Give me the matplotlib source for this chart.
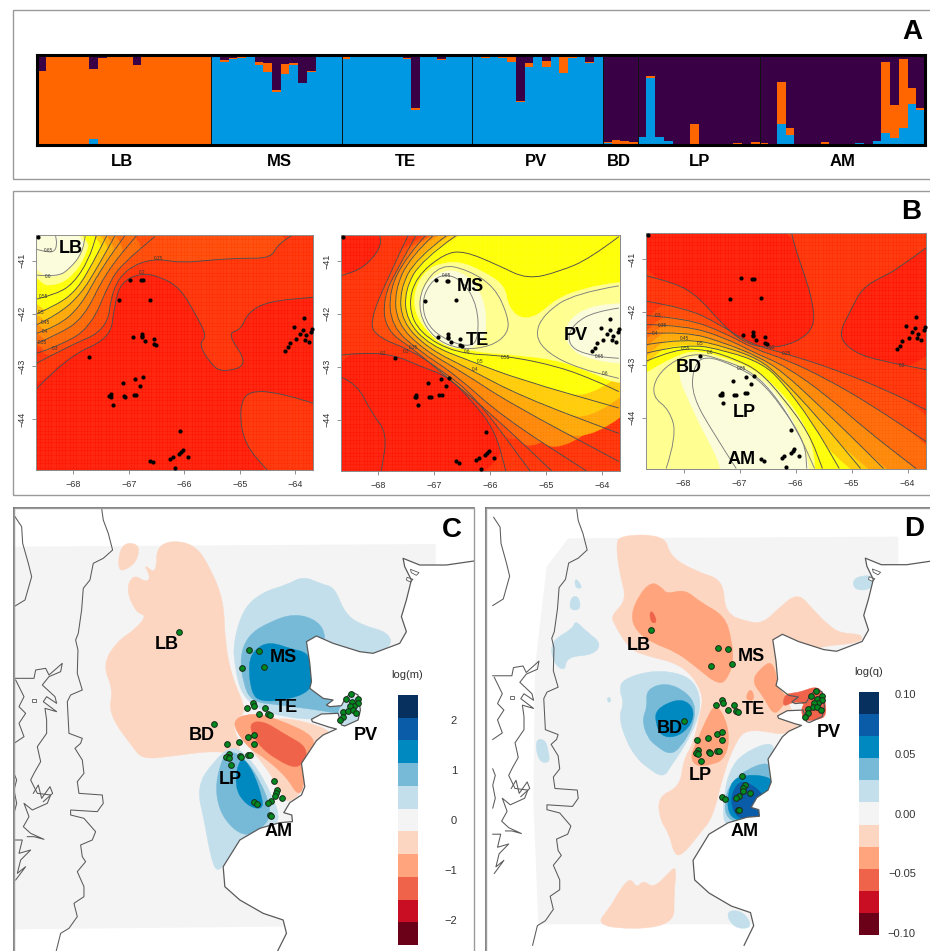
"""
plot.py
Four panel figure: ancestry bars, ancestry maps and migration / diversity surfaces
"""

import numpy as np
import matplotlib
matplotlib.use('Agg')
import matplotlib.pyplot as plt
from matplotlib.colors import BoundaryNorm, ListedColormap
from matplotlib.patches import PathPatch, Polygon, Rectangle
from matplotlib.path import Path

plt.rcParams['font.family'] = ['Liberation Sans', 'DejaVu Sans']

W, H = 930, 951

# ---- Panel A: per individual ancestry, purple is the remainder up to 1
lb_blue = [.015, .005, .005, .005, .005, .005, .075, .012, .008, .008, .008, .012, .005, .005, .005, .005, .005, .005, .01, .005]
lb_orange = [.81, .985, .98, .985, .985, .985, .775, .963, .987, .987, .987, .883, .985, .98, .99, .99, .99, .99, .985, .99]
ms_blue = [.98, .93, .965, .975, .98, .895, .82, .59, .795, .895, .69, .82, .98, .99, .99]
ms_orange = [.005, .025, .01, .005, .005, .035, .095, .025, .11, .025, .01, .005, .005, .005, .005]
te_blue = [.965, .98, .985, .985, .985, .985, .98, .96, .395, .985, .985, .955, .98, .985, .985]
te_orange = [.015, .005, .005, .005, .005, .005, .005, .015, .025, .005, .005, .005, .005, .005, .005]
pv_blue = [.985, .975, .985, .975, .925, .48, .875, .99, .875, .99, .805, .975, .985, .915, .99]
pv_orange = [.005, .005, .005, .015, .065, .015, .045, .005, .06, .005, .185, .005, .005, .015, .005]
bd_blue = [.025, .01, .015, .01]
bd_orange = [.015, .055, .035, .025]
lp_blue = [.09, .75, .10, .05, .02, .01, .01, .01, .01, .01, .01, .01, .01, .01]
lp_orange = [.01, .02, .0, .005, .0, .0, .225, .0, .005, .0, .0, .02, .005, .025]
am_blue = [.005, .0, .235, .115, .0, .01, .005, .01, .0, .005, .005, .03, .01, .055, .14, .085, .19, .46, .395]
am_orange = [.025, .0, .47, .08, .0, .0, .005, .025, .0, .005, .01, .0, .0, .0, .79, .37, .775, .18, .02]
groups_a = ['LB', 'MS', 'TE', 'PV', 'BD', 'LP', 'AM']
group_sizes_a = [20, 15, 15, 15, 4, 14, 19]

# ---- Panel B: sampling sites, longitude and latitude
site_lon = [-68.64, -66.97, -66.77, -66.75, -67.17, -66.62, -66.93, -66.76, -66.76, -66.76, -66.55, -66.71, -66.55, -66.51,
            -67.71, -67.11, -66.88, -66.74, -66.79, -66.91, -66.87, -67.35, -67.32, -67.32, -67.09, -67.06, -67.29, -66.08,
            -66.02, -66.05, -66.09, -65.93, -66.20, -66.25, -66.62, -66.56, -66.17, -63.85, -64.02, -63.86, -63.69, -63.71,
            -63.92, -63.81, -63.98, -63.83, -63.76, -64.10, -64.13, -64.18]
site_lat = [-40.54, -41.36, -41.37, -41.37, -41.75, -41.74, -42.44, -42.38, -42.43, -42.45, -42.48, -42.53, -42.58, -42.60,
            -42.83, -43.31, -43.24, -43.21, -43.37, -43.54, -43.54, -43.57, -43.53, -43.58, -43.57, -43.58, -43.73, -44.23,
            -44.59, -44.63, -44.67, -44.72, -44.73, -44.77, -44.79, -44.81, -44.94, -42.09, -42.26, -42.31, -42.29, -42.35,
            -42.38, -42.41, -42.49, -42.50, -42.54, -42.56, -42.64, -42.71]

b1_red = [(-70, -43.44), (-68.67, -43.44), (-68.11, -42.82), (-67.33, -42.47), (-67.26, -41.87), (-67.15, -41.42),
          (-66.79, -41.23), (-66.43, -41.30), (-66.07, -41.52), (-65.77, -42.06), (-65.59, -42.44), (-65.74, -42.57),
          (-65.53, -42.95), (-65.32, -43.12), (-64.83, -42.98), (-65.23, -42.38), (-64.98, -42.31), (-64.86, -41.99),
          (-64.50, -41.77), (-63.66, -41.69), (-62.8, -41.69), (-62.8, -43.71), (-63.66, -43.71), (-64.20, -43.52),
          (-64.86, -43.45), (-65.01, -43.83), (-64.92, -44.47), (-64.50, -44.98), (-64.3, -46), (-70, -46)]
b1_025 = [(-68.67, -42.95), (-68.11, -42.63), (-67.39, -42.31), (-67.30, -41.55), (-67.03, -41.14), (-66.55, -40.95),
          (-66.07, -41.04), (-65.47, -40.98), (-64.98, -40.95), (-64.44, -40.95), (-64.32, -40.70), (-64.05, -40.51)]
b1_03 = [(-68.67, -42.76), (-68.29, -42.63), (-67.69, -42.28), (-67.33, -41.36), (-67.09, -41.04), (-66.53, -40.54)]
b1_035 = [(-68.67, -42.57), (-68.29, -42.41), (-67.81, -42.09), (-67.42, -41.23), (-66.85, -40.51)]
b1_04 = [(-68.67, -42.38), (-68.29, -42.25), (-67.87, -41.87), (-67.51, -41.17), (-67.06, -40.51)]
b1_045 = [(-68.67, -42.22), (-68.29, -42.03), (-67.87, -41.65), (-67.54, -41.08), (-67.24, -40.51)]
b1_05 = [(-68.67, -42.01), (-68.29, -41.84), (-67.93, -41.55), (-67.63, -41.01), (-67.39, -40.51)]
b1_055 = [(-68.67, -41.73), (-68.29, -41.63), (-67.99, -41.42), (-67.72, -40.98), (-67.58, -40.51)]
b1_light = [(-68.67, -41.45), (-68.29, -41.47), (-68.0, -41.27), (-67.78, -40.92), (-67.68, -40.51)]
b1_06 = [(-68.67, -41.27), (-68.29, -41.31), (-68.05, -41.14), (-67.84, -40.85), (-67.78, -40.51)]
b1_065 = [(-68.67, -40.78), (-68.53, -40.82), (-68.35, -40.84), (-68.29, -40.70), (-68.32, -40.51)]

b2_red_top = [(-68.68, -41.28), (-68.39, -41.20), (-68.12, -40.98), (-67.95, -40.70), (-67.98, -40.50)]
b2_red_low = [(-68.68, -42.78), (-68.25, -42.73), (-67.71, -42.78), (-67.23, -43.0), (-66.75, -43.19), (-66.34, -43.63),
              (-65.92, -44.19), (-65.72, -44.97)]
b2_line_left = [(-68.68, -43.19), (-68.39, -43.31), (-68.12, -43.88), (-67.84, -44.26), (-67.95, -44.97)]
b2_025 = [(-67.47, -40.52), (-67.77, -41.18), (-68.18, -42.18), (-67.98, -42.46), (-67.43, -42.68), (-66.88, -43.06),
          (-66.27, -43.56), (-65.29, -44.97)]
b2_03 = [(-67.33, -40.52), (-67.64, -41.11), (-67.91, -41.67), (-67.88, -42.30), (-67.36, -42.68), (-66.82, -43.16),
         (-65.99, -43.88), (-64.90, -44.97)]
b2_035 = [(-67.16, -40.52), (-67.50, -40.92), (-67.81, -41.55), (-67.77, -42.24), (-67.26, -42.71), (-66.61, -43.16),
          (-65.79, -43.94), (-64.28, -44.97)]
b2_04 = [(-67.02, -40.52), (-67.43, -40.92), (-67.71, -41.55), (-67.67, -42.18), (-67.19, -42.68), (-66.47, -43.12),
         (-65.65, -43.69), (-63.70, -44.79)]
b2_045 = [(-66.78, -40.52), (-67.33, -40.95), (-67.62, -41.55), (-67.58, -42.15), (-67.12, -42.65), (-66.40, -43.03),
          (-65.45, -43.56), (-63.70, -44.26)]
b2_05 = [(-66.61, -40.52), (-67.23, -40.98), (-67.53, -41.55), (-67.50, -42.12), (-67.09, -42.59), (-66.34, -42.90),
         (-65.45, -43.25), (-63.70, -43.78)]
b2_055 = [(-63.70, -40.54), (-64.21, -40.95), (-64.76, -41.20), (-65.34, -41.35), (-65.86, -41.08), (-66.47, -40.81),
          (-66.82, -40.86), (-67.33, -41.30), (-67.47, -41.86), (-67.26, -42.37), (-66.61, -42.75), (-65.72, -42.79),
          (-64.76, -43.0), (-64.08, -43.28), (-63.70, -43.47)]
b2_light = [(-66.90, -41.05), (-66.54, -41.01), (-66.12, -41.20), (-65.74, -41.46), (-65.68, -41.86), (-65.47, -42.09),
            (-65.17, -42.05), (-64.81, -41.71), (-64.34, -41.52), (-63.68, -41.39), (-63.2, -41.39), (-63.2, -43.2), (-63.68, -43.35),
            (-64.22, -43.09), (-64.81, -42.87), (-65.53, -42.78), (-66.30, -42.72), (-66.90, -42.53), (-67.25, -42.2),
            (-67.38, -41.8), (-67.3, -41.4), (-67.1, -41.15)]
b2_ms_pale = [(-66.82, -41.14), (-66.40, -41.26), (-66.13, -41.67), (-66.06, -42.18), (-66.13, -42.56), (-66.54, -42.70),
              (-67.02, -42.49), (-67.28, -42.02), (-67.23, -41.49)]
b2_pv_pale = [(-63.68, -41.80), (-64.22, -41.86), (-64.57, -42.09), (-64.69, -42.40), (-64.51, -42.72), (-64.16, -42.87),
              (-63.68, -42.94), (-63.4, -42.94), (-63.1, -42.94), (-63.1, -41.80), (-63.4, -41.80)]
b2_pv_06 = [(-63.70, -41.47), (-64.49, -41.61), (-65.03, -41.99), (-65.21, -42.40), (-64.97, -42.75), (-64.42, -43.03),
            (-63.70, -43.22)]
b2_pv_065 = [(-63.70, -41.89), (-64.14, -41.96), (-64.49, -42.18), (-64.62, -42.43), (-64.52, -42.68), (-64.08, -42.81),
             (-63.70, -42.84)]
b2_ms_06 = [(-66.88, -41.06), (-66.40, -41.17), (-65.92, -41.49), (-65.68, -42.05), (-65.68, -42.37), (-65.99, -42.62),
            (-66.54, -42.68), (-67.02, -42.46), (-67.28, -41.99), (-67.23, -41.49)]
b2_ms_065 = [(-66.82, -41.23), (-66.47, -41.39), (-66.23, -41.86), (-66.21, -42.43), (-66.34, -42.63), (-66.75, -42.52),
             (-67.12, -42.24), (-67.23, -41.80), (-67.09, -41.42)]

b3_red_top = [(-68.66, -41.32), (-68.15, -41.45), (-67.74, -41.71), (-67.33, -42.21), (-66.96, -42.56), (-66.51, -42.70),
              (-66.0, -42.59), (-65.66, -42.30), (-65.69, -41.83), (-65.83, -41.33), (-66.0, -40.82), (-66.07, -40.51)]
b3_red_right = [(-63.67, -40.79), (-64.19, -41.20), (-64.46, -41.34), (-64.81, -41.55), (-65.01, -41.96), (-65.25, -42.46),
                (-64.94, -42.78), (-64.46, -42.93), (-63.67, -43.09)]
b3_025 = [(-68.66, -41.80), (-67.95, -41.93), (-67.40, -42.21), (-66.78, -42.62), (-66.10, -42.81), (-65.22, -43.12),
          (-64.40, -43.47), (-63.67, -43.85)]
b3_03 = [(-68.66, -42.07), (-67.95, -42.12), (-67.26, -42.40), (-66.72, -42.71), (-66.17, -42.90), (-65.42, -43.28),
         (-64.60, -43.79), (-63.67, -44.45)]
b3_035 = [(-68.66, -42.24), (-67.95, -42.26), (-67.26, -42.49), (-66.72, -42.78), (-66.17, -43.03), (-65.42, -43.60),
          (-64.74, -44.23), (-63.85, -44.96)]
b3_04 = [(-68.66, -42.41), (-67.95, -42.37), (-67.26, -42.59), (-66.68, -42.84), (-66.24, -43.12), (-65.56, -43.79),
         (-65.01, -44.35), (-64.43, -44.96)]
b3_045 = [(-68.66, -42.62), (-67.95, -42.49), (-67.19, -42.68), (-66.65, -42.90), (-66.31, -43.19), (-65.62, -43.97),
          (-64.84, -44.96)]
b3_05 = [(-68.66, -42.78), (-67.95, -42.59), (-67.19, -42.75), (-66.61, -42.97), (-66.27, -43.28), (-65.69, -44.10),
         (-65.22, -44.96)]
b3_055 = [(-68.66, -42.93), (-68.15, -42.70), (-67.60, -42.71), (-67.06, -42.90), (-66.65, -43.12), (-66.24, -43.60),
          (-65.76, -44.29), (-65.52, -44.96)]
b3_light = [(-69.0, -43.3), (-68.67, -43.16), (-68.43, -43.0), (-68.07, -42.81), (-67.78, -42.73), (-67.30, -42.85), (-66.70, -43.10),
            (-66.17, -43.60), (-65.75, -44.29), (-65.63, -44.99), (-65.65, -45.5), (-69.1, -45.5)]
b3_pale = [(-68.01, -42.94), (-67.78, -42.81), (-67.30, -42.90), (-66.70, -43.19), (-66.28, -43.60), (-65.99, -44.17),
           (-65.81, -44.67), (-65.75, -45.02), (-65.75, -45.6), (-67.3, -45.6), (-67.33, -45.02), (-67.39, -44.77), (-67.66, -44.23),
           (-67.87, -43.76), (-68.10, -43.22)]
b3_06 = [(-68.31, -44.96), (-68.12, -44.35), (-68.25, -43.85), (-68.56, -43.60), (-68.49, -43.22), (-68.15, -42.90),
         (-67.74, -42.78), (-67.33, -42.90), (-66.85, -43.09), (-66.44, -43.47), (-65.97, -44.23), (-65.66, -44.96)]
b3_065 = [(-67.06, -44.96), (-67.47, -44.29), (-67.84, -43.60), (-67.84, -43.09), (-67.64, -42.81), (-67.06, -43.03),
          (-66.65, -43.28), (-66.24, -43.79), (-65.83, -44.48), (-65.80, -44.96)]

b1_contour_labels = [(-68.45, -40.80, '0.65'), (-68.45, -41.30, '0.6'), (-68.54, -41.68, '0.55'), (-68.58, -41.98, '0.5'),
                     (-68.49, -42.17, '0.45'), (-68.50, -42.35, '0.4'), (-68.55, -42.55, '0.35'), (-68.32, -42.66, '0.3'),
                     (-66.46, -40.96, '0.25'), (-66.76, -41.23, '0.2')]
b2_contour_labels = [(-67.92, -42.75, '0.2'), (-67.38, -42.63, '0.35'), (-67.51, -42.72, '0.3'), (-66.28, -43.06, '0.4'),
                     (-66.18, -42.90, '0.5'), (-65.72, -42.83, '0.55'), (-66.42, -42.71, '0.6'), (-63.94, -43.12, '0.6'),
                     (-64.05, -42.81, '0.65'), (-66.79, -41.28, '0.65')]
b3_contour_labels = [(-68.46, -42.07, '0.3'), (-68.38, -42.25, '0.35'), (-68.51, -42.41, '0.4'), (-67.98, -42.51, '0.45'),
                     (-67.71, -42.60, '0.5'), (-67.97, -42.70, '0.55'), (-67.52, -42.76, '0.6'), (-66.96, -43.07, '0.65'),
                     (-66.41, -42.68, '0.2'), (-66.16, -42.78, '0.25'), (-64.09, -43.02, '0.2')]

# ---- Panels C and D: base map, in map units of panel C
sea_coast = [(1260, 195), (1210, 175), (1215, 200), (1235, 240), (1220, 300), (1205, 350), (1220, 395), (1200, 430),
             (1120, 460), (1080, 455), (1000, 430), (950, 408), (920, 425), (930, 490), (935, 545), (930, 565), (970, 595),
             (1000, 600), (980, 615), (990, 620), (1025, 617), (1035, 598), (1055, 575), (1075, 585), (1082, 630), (1075, 660),
             (1035, 678), (1025, 675), (1015, 640), (965, 642), (935, 658), (938, 665), (990, 682), (1010, 687), (970, 705),
             (950, 722), (905, 790), (915, 860), (905, 885), (870, 908), (852, 938), (876, 945), (878, 965), (840, 968),
             (780, 985), (720, 1020), (670, 1100), (675, 1160), (720, 1200), (790, 1240), (850, 1260), (860, 1300), (830, 1360)]
coast_head = [(1423, 183), (1340, 195)]
andes = [(305, 24), (310, 60), (325, 100), (338, 150), (310, 175), (280, 190), (270, 240), (250, 265), (245, 330), (235, 400),
         (227, 420), (234, 450), (232, 520), (247, 570), (212, 585), (202, 605), (207, 700), (247, 715), (242, 730), (225, 745),
         (247, 780), (252, 820), (232, 845), (237, 880), (307, 885), (310, 910), (292, 935), (212, 930), (212, 945), (252, 955),
         (287, 995), (277, 1020), (242, 1035), (247, 1070), (257, 1085), (232, 1115), (252, 1160), (252, 1190), (222, 1210),
         (232, 1250), (207, 1285), (182, 1300), (167, 1360)]
chile_north = [(45, 50), (65, 80), (68, 130), (85, 190), (95, 230), (75, 300), (42, 320)]
fjords_a = [(42, 535), (102, 535), (107, 510), (137, 505), (147, 525), (187, 490), (182, 515), (147, 530), (127, 555), (165, 590),
            (170, 610), (140, 590), (130, 605), (170, 635), (135, 625), (140, 660), (140, 700), (112, 740), (122, 785), (102, 820),
            (92, 840), (112, 880), (152, 885), (142, 910), (97, 930), (72, 910), (87, 950), (70, 980), (92, 1000), (132, 1018),
            (102, 1010), (82, 1010)]
fjords_b = [(47, 540), (72, 590), (57, 620), (77, 640), (57, 670), (72, 710), (42, 730)]
fjords_c = [(42, 1020), (67, 1020), (57, 1060), (92, 1050), (62, 1080), (52, 1120), (77, 1100), (47, 1140)]
fjords_d = [(42, 820), (50, 840), (42, 870), (50, 910), (42, 940)]
fjords_e = [(100, 880), (115, 855), (125, 895), (150, 860), (158, 880), (130, 905)]
lake_a = [(1232, 208), (1258, 218), (1250, 226), (1235, 218)]
lake_b = [(1222, 232), (1240, 238), (1232, 246), (1220, 240)]
lake_c = [(95, 598), (108, 598), (108, 605), (95, 605)]

# Sampling sites on the base map
map_x = [537, 747, 779, 727, 792, 761, 763, 741, 797, 779, 805, 810, 641, 745, 762, 717, 682, 762, 686, 683, 678, 686, 719, 724,
         745, 752, 694, 824, 832, 828, 825, 847, 815, 806, 762, 771, 812, 814, 1054, 1039, 1075, 1058, 1075, 1062, 1050, 1030,
         1045, 1060, 1070, 1030, 1022]
map_y = [395, 449, 453, 504, 500, 608, 617, 624, 624, 641, 643, 646, 672, 712, 706, 727, 733, 731, 762, 770, 771, 775, 768, 771,
         765, 764, 795, 843, 870, 878, 888, 894, 902, 909, 907, 911, 945, 947, 581, 598, 597, 606, 610, 617, 618, 637, 632, 630,
         639, 650, 660]

# Colour classes of the log(m) and log(q) scales, low to high
class_colors = ['#6B0019', '#C90D22', '#EF634A', '#FFA47C', '#FDD6C2', '#F4F4F4', '#C3DFEC', '#76BAD8', '#0089C0', '#0A5CA8', '#07305F']
PINK, ORANGE, CORAL = class_colors[4], class_colors[3], class_colors[2]
PALE, SKY, OCEAN, DEEP = class_colors[6], class_colors[7], class_colors[8], class_colors[9]

c_surface = [
    (PINK, [(362, 130), (352, 218), (395, 200), (416, 170), (416, 130)]),
    (PINK, [(400, 222), (440, 248), (452, 230), (430, 190), (470, 225), (470, 125), (582, 125), (640, 220), (672, 310), (675, 420),
            (695, 530), (745, 640), (690, 660), (735, 765), (640, 752), (520, 768), (430, 778), (400, 745), (325, 640), (340, 570),
            (308, 495), (350, 425), (410, 385), (440, 345), (410, 340), (378, 270)]),
    (PINK, [(735, 730), (810, 640), (1010, 690), (945, 720), (905, 795), (915, 870), (860, 915), (835, 860), (790, 790)]),
    (ORANGE, [(690, 660), (760, 638), (830, 655), (960, 715), (910, 780), (915, 855), (895, 890), (860, 830), (790, 770), (740, 740)]),
    (CORAL, [(745, 670), (790, 662), (850, 700), (930, 745), (900, 810), (830, 780), (770, 730)]),
    (PALE, [(910, 228), (965, 252), (1005, 262), (1035, 340), (1085, 375), (1170, 398), (1175, 445), (1080, 470), (950, 470),
            (1000, 600), (1020, 650), (940, 660), (850, 650), (780, 630), (725, 585), (705, 500), (700, 430), (730, 325), (790, 275),
            (860, 255)]),
    (SKY, [(885, 340), (955, 362), (980, 410), (960, 470), (985, 600), (1035, 625), (1040, 645), (1000, 638), (940, 628), (830, 614),
           (755, 605), (730, 550), (720, 470), (745, 405), (810, 365)]),
    (OCEAN, [(810, 425), (875, 447), (925, 458), (950, 520), (930, 575), (860, 600), (785, 605), (755, 582), (745, 490), (765, 447)]),
    (PALE, [(1005, 588), (1095, 592), (1085, 655), (1065, 685), (1018, 685), (1012, 640), (1030, 610)]),
    (PALE, [(700, 732), (762, 788), (815, 880), (845, 965), (790, 1000), (720, 1025), (680, 1085), (650, 1120), (630, 1060), (615, 970),
            (590, 860), (640, 785)]),
    (SKY, [(680, 746), (742, 778), (800, 880), (815, 950), (780, 990), (730, 1010), (675, 962), (650, 900), (650, 830)]),
    (OCEAN, [(720, 765), (758, 808), (790, 900), (785, 930), (738, 915), (703, 860)]),
]
d_surface = [
    (PINK, [(418, 105), (555, 105), (570, 170), (650, 215), (730, 240), (735, 340), (800, 365), (850, 370), (900, 320), (955, 278),
            (1000, 330), (1050, 380), (1085, 400), (1150, 403), (1140, 430), (1000, 440), (900, 500), (920, 600), (950, 660), (960, 680),
            (905, 705), (865, 695), (800, 690), (770, 720), (730, 820), (700, 950), (660, 1000), (605, 1068), (582, 1062), (567, 1000),
            (540, 960), (533, 890), (600, 860), (610, 780), (640, 730), (660, 640), (670, 590), (640, 530), (590, 490), (510, 470),
            (450, 450), (400, 370), (395, 345), (440, 300), (420, 225), (408, 140)]),
    (PINK, [(340, 1285), (395, 1215), (410, 1185), (450, 1130), (470, 1165), (490, 1140), (520, 1165), (565, 1120), (590, 1095),
            (582, 1180), (582, 1285)]),
    (ORANGE, [(515, 245), (545, 262), (560, 282), (615, 268), (660, 306), (735, 348), (755, 420), (760, 480), (750, 522), (720, 560),
              (640, 494), (585, 454), (520, 430), (468, 394), (452, 345), (478, 283)]),
    (ORANGE, [(880, 480), (895, 570), (925, 590), (905, 625), (880, 645), (850, 590), (815, 545), (840, 505)]),
    (ORANGE, [(705, 610), (735, 650), (750, 720), (732, 780), (690, 795), (650, 800), (630, 772), (652, 720), (678, 660)]),
    (ORANGE, [(800, 580), (815, 566), (825, 600), (800, 602)]),
    (CORAL, [(508, 338), (518, 333), (532, 367), (514, 370)]),
    (PALE, [(418, 570), (428, 538), (510, 512), (590, 517), (642, 543), (663, 600), (653, 662), (612, 742), (575, 795), (550, 835),
            (498, 800), (468, 772), (438, 722), (416, 650), (432, 610)]),
    (SKY, [(498, 568), (560, 547), (622, 578), (648, 620), (638, 682), (602, 742), (570, 765), (528, 738), (502, 712), (486, 660),
           (502, 620)]),
    (OCEAN, [(527, 628), (590, 597), (628, 608), (643, 640), (628, 683), (585, 713), (543, 708), (527, 670)]),
    (PALE, [(790, 758), (885, 720), (875, 790), (880, 840), (855, 950), (780, 965), (728, 980), (732, 880), (750, 808)]),
    (SKY, [(780, 818), (870, 780), (880, 840), (860, 890), (855, 965), (738, 970), (733, 880)]),
    (OCEAN, [(745, 848), (800, 822), (875, 832), (880, 860), (860, 890), (850, 955), (742, 965)]),
    (DEEP, [(770, 850), (800, 843), (855, 885), (832, 905), (815, 925), (848, 935), (845, 962), (770, 958), (750, 900)]),
    (PALE, [(165, 718), (195, 718), (205, 750), (210, 790), (175, 785)]),
    (PALE, [(285, 230), (310, 265), (285, 265)]),
    (PALE, [(270, 300), (285, 285), (300, 300), (300, 330), (270, 330)]),
    (PALE, [(210, 425), (280, 385), (285, 360), (320, 395), (365, 430), (340, 465), (260, 470), (255, 515), (220, 490)]),
    (PALE, [(1120, 230), (1190, 225), (1175, 270), (1120, 270)]),
    (PALE, [(735, 1232), (790, 1232), (820, 1285), (760, 1285)]),
    (PALE, [(380, 595), (390, 590), (393, 605), (385, 608)]),
]
# The red patch over Peninsula Valdes sits on top of the sea mask
d_over_sea = [(CORAL, [(960, 576), (1017, 556), (1036, 600), (1039, 647), (1017, 659), (970, 664), (963, 625), (975, 610), (940, 605),
                       (908, 622), (913, 583), (945, 578)])]
c_gray = [(42, 140), (1308, 132), (1308, 1275), (42, 1288)]
d_gray = [(265, 115), (1255, 110), (1255, 1273), (175, 1273), (160, 900), (165, 500), (200, 200)]

m_ticks = [-2, -1, 0, 1, 2]
q_ticks = [-0.10, -0.05, 0.0, 0.05, 0.10]


def ax_px(left, top, right, bottom):
    """Axes placed by pixel edges of the figure"""
    return fig.add_axes([left / W, 1 - bottom / H, (right - left) / W, (bottom - top) / H])


def fig_label(x, y, text, size, **kw):
    fig.text(x / W, 1 - y / H, text, fontsize=size, ha=kw.pop('ha', 'center'), va='center', **kw)


def frame(left, top, right, bottom):
    fig.add_artist(Rectangle((left / W, 1 - bottom / H), (right - left) / W, (bottom - top) / H, transform=fig.transFigure,
                             fill=False, edgecolor='#9A9A9A', linewidth=1.0))


def smooth_path(points, closed=False):
    """Path through midpoints, with the read points as quadratic control points"""
    pts = np.asarray(points, dtype=float)
    if closed:
        start = (pts[-1] + pts[0]) / 2
        verts, codes = [start], [Path.MOVETO]
        for i in range(len(pts)):
            verts += [pts[i], (pts[i] + pts[(i + 1) % len(pts)]) / 2]
            codes += [Path.CURVE3, Path.CURVE3]
        return Path(verts, codes)
    verts, codes = [pts[0]], [Path.MOVETO]
    for i in range(1, len(pts) - 1):
        verts += [pts[i], (pts[i] + pts[i + 1]) / 2]
        codes += [Path.CURVE3, Path.CURVE3]
    verts.append(pts[-1])
    codes.append(Path.LINETO)
    return Path(verts, codes)


def fill_region(ax, points, color):
    ax.add_patch(PathPatch(smooth_path(points, closed=True), facecolor=color, edgecolor=color, linewidth=0.3))


def draw_contour(ax, points, color='#444444', closed=False, lw=0.65):
    ax.add_patch(PathPatch(smooth_path(points, closed=closed), fill=False, edgecolor=color, linewidth=lw))


def style_b_axes(ax):
    ax.set_xlim(-68.67, -63.68)
    ax.set_ylim(-44.97, -40.51)
    # Raster cell texture of the interpolated surface
    ax.vlines(np.arange(-68.67, -63.68, 0.05), -45, -40, color='white', linewidth=0.35, alpha=0.16, zorder=4)
    ax.hlines(np.arange(-44.97, -40.51, 0.05), -69, -63, color='white', linewidth=0.35, alpha=0.16, zorder=4)
    ax.scatter(site_lon, site_lat, s=9, color='black', zorder=6, clip_on=False, linewidths=0)
    ax.set_xticks([-68, -67, -66, -65, -64], ['\u221268', '\u221267', '\u221266', '\u221265', '\u221264'])
    ax.set_yticks([-41, -42, -43, -44], ['\u221241', '\u221242', '\u221243', '\u221244'], rotation=90, va='center')
    ax.tick_params(labelsize=6.5, length=3, width=0.5, color='#666666', labelcolor='#333333', pad=4)
    for spine in ax.spines.values():
        spine.set_color('#888888')
        spine.set_linewidth(0.7)


def contour_labels(ax, labels):
    for lon, lat, text in labels:
        ax.text(lon, lat, text, fontsize=3.4, color='#333333', ha='center', va='center', zorder=5)


def region_labels(ax, labels, size=13):
    for x, y, text in labels:
        ax.text(x, y, text, fontsize=size, fontweight='bold', ha='center', va='center', color='black', zorder=8)


def draw_map(ax, gray, surface, over_sea, sx, ox, sy, oy):
    """Surface read in this panel's units, base map scaled over from panel C"""
    def place(points):
        pts = np.asarray(points, dtype=float)
        return np.column_stack([pts[:, 0] * sx + ox, pts[:, 1] * sy + oy])

    ax.add_patch(Polygon(gray, closed=True, facecolor='#F4F4F4', edgecolor='none'))
    for color, points in surface:
        fill_region(ax, points, color)
    sea = place(sea_coast)
    head = place(coast_head)
    ax.add_patch(Polygon(np.vstack([head, sea, [[1600, 1400], [1600, 183]]]), closed=True, facecolor='white', edgecolor='none'))
    for color, points in over_sea:
        fill_region(ax, points, color)
    coast = np.vstack([head, sea])
    ax.plot(coast[:, 0], coast[:, 1], color='#5A5A5A', linewidth=0.9)
    for line in [andes, chile_north, fjords_a, fjords_b, fjords_c, fjords_d, fjords_e]:
        pts = place(line)
        ax.plot(pts[:, 0], pts[:, 1], color='#5A5A5A', linewidth=0.75)
    for lake in [lake_a, lake_b, lake_c]:
        ax.add_patch(Polygon(place(lake), closed=True, facecolor='white', edgecolor='#5A5A5A', linewidth=0.6))
    ax.scatter(np.array(map_x) * sx + ox, np.array(map_y) * sy + oy, s=17, color='#00891E', edgecolor='#1A2A1A',
               linewidths=0.7, zorder=6)
    ax.set_xticks([])
    ax.set_yticks([])
    for side in ['right', 'bottom']:
        ax.spines[side].set_visible(False)
    for side in ['left', 'top']:
        ax.spines[side].set_color('#6A6A6A')
        ax.spines[side].set_linewidth(1.2)


def scale_bar(ax, vmax, ticks, labels, title, title_xy, pad):
    edges = np.linspace(-vmax, vmax, 12)
    cmap = ListedColormap(class_colors)
    values = (edges[:-1] + edges[1:]) / 2
    ax.pcolormesh([0, 1], edges, values.reshape(-1, 1), cmap=cmap, norm=BoundaryNorm(edges, 11))
    ax.set_xticks([])
    ax.yaxis.tick_right()
    ax.set_yticks(ticks, labels)
    ax.tick_params(length=0, labelsize=8, pad=pad, labelcolor='#333333')
    for lab in ax.get_yticklabels():
        lab.set_ha('right')
    for spine in ax.spines.values():
        spine.set_visible(False)
    fig_label(title_xy[0], title_xy[1], title, 8, color='#333333')


fig = plt.figure(figsize=(W / 100, H / 100), dpi=100, facecolor='white')

# Panel frames, the right ones run off the page
frame(13, 10, 940, 179)
frame(13, 191, 940, 495)
frame(14, 508, 474, 960)
frame(486, 508, 940, 960)

# Panel A
blue = lb_blue + ms_blue + te_blue + pv_blue + bd_blue + lp_blue + am_blue
orange = lb_orange + ms_orange + te_orange + pv_orange + bd_orange + lp_orange + am_orange
ax_a = ax_px(37, 54.5, 925, 145.5)
x = np.arange(len(blue))
ax_a.set_facecolor('#3A0046')
ax_a.bar(x, blue, width=1.0, align='edge', color='#0098E2', linewidth=0)
ax_a.bar(x, orange, width=1.0, bottom=blue, align='edge', color='#FF6600', linewidth=0)
ax_a.vlines(np.cumsum(group_sizes_a)[:-1], 0, 1.02, color='#111111', linewidth=0.7)
ax_a.set_xlim(0, len(blue))
ax_a.set_ylim(0, 1.012)
ax_a.set_xticks([])
ax_a.set_yticks([])
for spine in ax_a.spines.values():
    spine.set_color('black')
    spine.set_linewidth(2.2)
for name, px in zip(groups_a, [122, 279, 405, 536, 619, 700, 843]):
    fig_label(px, 161, name, 12, fontweight='bold')

# Panel B
HEAT_LOW = '#FF2C00'
RED = '#FF1600'
YELLOW = '#FFFF00'
LIGHT = '#FFFF8C'
CREAM = '#FBFCD9'
band_colors = ['#FF4400', '#FF6400', '#FF8400', '#FFA600', '#FFCC00', YELLOW]

ax_b1 = ax_px(36, 235, 313, 470)
ax_b1.set_facecolor(HEAT_LOW)
fill_region(ax_b1, b1_red, RED)
b1_levels = [b1_025, b1_03, b1_035, b1_04, b1_045, b1_05, b1_055, b1_06]
for curve, color in zip(b1_levels[:6], band_colors):
    fill_region(ax_b1, curve + [(-74, -35)], color)
fill_region(ax_b1, b1_light + [(-74, -35)], LIGHT)
fill_region(ax_b1, b1_06 + [(-74, -35)], CREAM)
for curve in b1_levels[:-1]:
    draw_contour(ax_b1, curve)
draw_contour(ax_b1, b1_red[1:20])
draw_contour(ax_b1, b1_red[22:28])
draw_contour(ax_b1, b1_06, color='#777777')
draw_contour(ax_b1, b1_065, color='#777777')
style_b_axes(ax_b1)
contour_labels(ax_b1, b1_contour_labels)
region_labels(ax_b1, [(-68.05, -40.76, 'LB')])

ax_b2 = ax_px(341, 235, 620, 471)
ax_b2.set_facecolor(HEAT_LOW)
fill_region(ax_b2, b2_red_top + [(-74, -35)], RED)
fill_region(ax_b2, b2_red_low + [(-74, -50)], RED)
b2_levels = [b2_025, b2_03, b2_035, b2_04, b2_045, b2_05]
for curve, color in zip(b2_levels, band_colors):
    fill_region(ax_b2, curve + [(-58, -36)], color)
fill_region(ax_b2, b2_light, LIGHT)
fill_region(ax_b2, b2_pv_pale, CREAM)
fill_region(ax_b2, b2_ms_pale, CREAM)
for curve in [b2_red_top, b2_red_low, b2_line_left] + b2_levels + [b2_055]:
    draw_contour(ax_b2, curve)
draw_contour(ax_b2, b2_pv_06, color='#777777')
draw_contour(ax_b2, b2_pv_065, color='#777777')
draw_contour(ax_b2, b2_ms_06, color='#777777', closed=True)
draw_contour(ax_b2, b2_ms_065, color='#777777', closed=True)
style_b_axes(ax_b2)
contour_labels(ax_b2, b2_contour_labels)
region_labels(ax_b2, [(-66.35, -41.49, 'MS'), (-66.23, -42.51, 'TE'), (-64.47, -42.40, 'PV')])

ax_b3 = ax_px(646, 233, 925.5, 469)
ax_b3.set_facecolor(HEAT_LOW)
fill_region(ax_b3, b3_red_top + [(-74, -35)], RED)
fill_region(ax_b3, b3_red_right + [(-59, -38)], RED)
b3_levels = [b3_025, b3_03, b3_035, b3_04, b3_045, b3_05, b3_055]
for curve, color in zip(b3_levels[:6], band_colors):
    fill_region(ax_b3, curve + [(-56, -52), (-76, -52)], color)
fill_region(ax_b3, b3_light, LIGHT)
fill_region(ax_b3, b3_pale, CREAM)
for curve in [b3_red_top, b3_red_right] + b3_levels:
    draw_contour(ax_b3, curve)
draw_contour(ax_b3, b3_06, color='#777777')
draw_contour(ax_b3, b3_065, color='#777777')
style_b_axes(ax_b3)
contour_labels(ax_b3, b3_contour_labels)
region_labels(ax_b3, [(-67.91, -43.05, 'BD'), (-66.92, -43.91, 'LP'), (-66.96, -44.79, 'AM')])

# Panel C
ax_c = ax_px(14, 508, 474, 951)
ax_c.set_xlim(42, 1423)
ax_c.set_ylim(1353, 24)
draw_map(ax_c, c_gray, c_surface, [], 1.0, 0.0, 1.0, 0.0)
region_labels(ax_c, [(500, 433, 'LB'), (850, 473, 'MS'), (860, 623, 'TE'), (606, 708, 'BD'), (1099, 707, 'PV'), (690, 838, 'LP'),
                     (837, 994, 'AM')])
scale_bar(ax_px(398, 695, 418, 945), 2.5, m_ticks, ['\u22122', '\u22121', '0', '1', '2'], 'log(m)', (407, 675), 28)

# Panel D
ax_d = ax_px(486, 508, 930, 951)
ax_d.set_xlim(18, 1350)
ax_d.set_ylim(1353, 24)
draw_map(ax_d, d_gray, d_surface, d_over_sea, 0.957, -2.0, 0.98, 3.0)
region_labels(ax_d, [(475, 435, 'LB'), (815, 470, 'MS'), (820, 627, 'TE'), (570, 686, 'BD'), (1047, 698, 'PV'), (660, 827, 'LP'),
                     (793, 993, 'AM')])
scale_bar(ax_px(859, 692, 879, 935), 0.102, q_ticks, ['\u22120.10', '\u22120.05', '0.00', '0.05', '0.10'], 'log(q)', (869, 672), 26.5)

# Panel letters
for letter, px, py in [('A', 912, 32), ('B', 911, 212), ('C', 452, 530), ('D', 914, 529)]:
    fig_label(px, py, letter, 20, fontweight='bold', zorder=10)

fig.savefig('out.png', dpi=100)
